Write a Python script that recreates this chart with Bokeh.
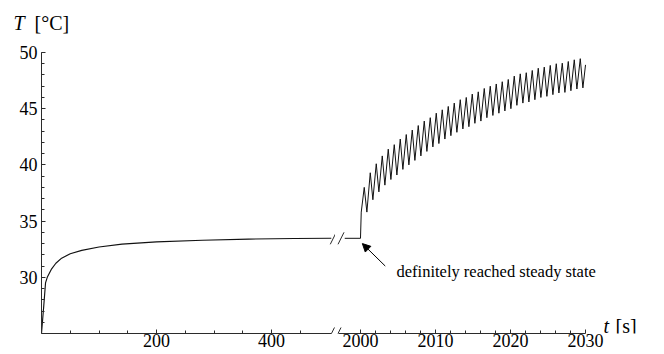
from bokeh.plotting import figure
from bokeh.layouts import row, column
from bokeh.models import Range1d, FixedTicker, Label, Arrow, NormalHead
from bokeh.embed import file_html
from bokeh.resources import INLINE

# ---------------- data ----------------
# first part: warm-up to the steady state, t in s, T in deg C
t_early = [0, 4, 7, 10, 17, 25, 35, 50, 70, 100, 140, 200, 280, 360, 440, 504]
T_early = [25.0, 27.5, 29.5, 30.0, 30.7, 31.25, 31.7, 32.1, 32.4, 32.7, 32.95,
           33.15, 33.3, 33.4, 33.45, 33.47]

# second part: steady state, then periodic heating from t = 2000 s
t_start = [1997.9, 2000.0, 2000.1]
T_start = [33.47, 33.47, 35.8]

peak_t = [2000.5, 2001.3, 2002.1, 2002.9, 2003.7, 2004.5, 2005.3, 2006.1, 2006.9,
          2007.7, 2008.5, 2009.3, 2010.1, 2010.9, 2011.7, 2012.5, 2013.3, 2014.1,
          2014.9, 2015.7, 2016.5, 2017.3, 2018.1, 2018.9, 2019.7, 2020.5, 2021.3,
          2022.1, 2022.9, 2023.7, 2024.5, 2025.3, 2026.1, 2026.9, 2027.7, 2028.5,
          2029.3]
peak_T = [38.0, 39.3, 40.1, 40.8, 41.4, 41.8, 42.3, 42.7, 43.1, 43.5,
          43.9, 44.2, 44.6, 44.9, 45.2, 45.5, 45.8, 46.0, 46.3, 46.5,
          46.8, 47.0, 47.2, 47.4, 47.6, 47.9, 48.1, 48.2, 48.4, 48.6,
          48.7, 48.85, 49.0, 49.05, 49.2, 49.35, 49.45]
trough_t = [2000.85, 2001.65, 2002.45, 2003.25, 2004.05, 2004.85, 2005.65, 2006.45,
            2007.25, 2008.05, 2008.85, 2009.65, 2010.45, 2011.25, 2012.05, 2012.85,
            2013.65, 2014.45, 2015.25, 2016.05, 2016.85, 2017.65, 2018.45, 2019.25,
            2020.05, 2020.85, 2021.65, 2022.45, 2023.25, 2024.05, 2024.85, 2025.65,
            2026.45, 2027.25, 2028.05, 2028.85, 2029.65]
trough_T = [35.8, 36.9, 37.6, 38.2, 38.7, 39.1, 39.6, 40.0, 40.4, 40.8,
            41.2, 41.6, 41.9, 42.3, 42.6, 42.9, 43.2, 43.4, 43.7, 43.9,
            44.2, 44.4, 44.6, 44.8, 45.0, 45.3, 45.5, 45.6, 45.8, 46.0,
            46.1, 46.25, 46.4, 46.45, 46.6, 46.75, 46.85]
t_last = [2030.0]
T_last = [48.9]

# ticks
y_ticks = [30, 35, 40, 45, 50]
y_minor = list(range(25, 51))
x1_ticks = [200, 400]
x1_minor = [50, 100, 150, 250, 300, 350, 450]
x2_ticks = [2000, 2010, 2020, 2030]
x2_minor = list(range(2002, 2030, 2))

# texts
y_title = ("T", "[°C]")
x_title = ("t", "[s]")
note_text = "definitely reached steady state"

# ---------------- assemble series ----------------
t_late = list(t_start)
T_late = list(T_start)
for a, b, c, d in zip(peak_t, peak_T, trough_t, trough_T):
    t_late += [a, c]
    T_late += [b, d]
t_late += t_last
T_late += T_last

# ---------------- styling / layout ----------------
FONT = "Liberation Serif"
AX = "#2b2b2b"
LINE = "#111111"
HEAD_H = 40
H = 354 - HEAD_H
TOP = 52 - HEAD_H
Y_RANGE = (25, 50)
# left panel: frame 41..335 px, axis drawn 0..504.3 s (0.575 px/s)
X1_RANGE = (0, 511.3)
X1_BOUNDS = (0, 504.3)
# right panel: frame 335..664 px, 7.5 px/s, axis drawn 1997.07..2030 s
X2_RANGE = (1996.667, 2040.53)
X2_BOUNDS = (1997.07, 2030)

yr = Range1d(*Y_RANGE)

head = figure(width=664, height=HEAD_H, x_range=Range1d(0, 664),
              y_range=Range1d(0, HEAD_H), x_axis_location=None,
              y_axis_location=None, output_backend="svg", toolbar_location=None,
              min_border_left=0, min_border_right=0, min_border_top=0,
              min_border_bottom=0)
p1 = figure(width=335, height=H, x_range=Range1d(*X1_RANGE), y_range=yr,
            output_backend="svg", toolbar_location=None,
            min_border_left=41, min_border_right=0, min_border_top=TOP,
            min_border_bottom=21)
p2 = figure(width=329, height=H, x_range=Range1d(*X2_RANGE), y_range=yr,
            output_backend="svg", toolbar_location=None, y_axis_location=None,
            min_border_left=0, min_border_right=0, min_border_top=TOP,
            min_border_bottom=21)


def style_fig(p):
    p.background_fill_color = "white"
    p.border_fill_color = "white"
    p.outline_line_color = None
    p.grid.visible = False


def style_axis(ax, ticks, minor, standoff):
    ax.ticker = FixedTicker(ticks=ticks, minor_ticks=minor)
    ax.axis_line_color = AX
    ax.axis_line_width = 1
    ax.major_tick_line_color = AX
    ax.minor_tick_line_color = AX
    ax.major_tick_in = 4
    ax.major_tick_out = 0
    ax.minor_tick_in = 3
    ax.minor_tick_out = 0
    ax.major_label_text_font = FONT
    ax.major_label_text_font_size = "18px"
    ax.major_label_text_color = "black"
    ax.major_label_standoff = standoff


for p in (head, p1, p2):
    style_fig(p)
style_axis(p1.xaxis[0], x1_ticks, x1_minor, 0)
style_axis(p2.xaxis[0], x2_ticks, x2_minor, 0)
style_axis(p1.yaxis[0], y_ticks, y_minor, 4)
p1.xaxis[0].bounds = X1_BOUNDS
p2.xaxis[0].bounds = X2_BOUNDS

p1.line(t_early, T_early, line_color=LINE, line_width=1.15)
p2.line(t_late, T_late, line_color=LINE, line_width=1.0)

# break marks (pixel sizes converted to data units)
KX1 = 1 / 0.575
KX2 = 1 / 7.5
KY = (Y_RANGE[1] - Y_RANGE[0]) / 281.0


def slash(p, xc, yc, kx):
    p.add_layout(Arrow(end=None, x_start=xc - 3 * kx, y_start=yc - 6 * KY,
                       x_end=xc + 3 * kx, y_end=yc + 6 * KY,
                       line_color=AX, line_width=1))


level = T_early[-1]
slash(p1, X1_BOUNDS[1], Y_RANGE[0], KX1)
slash(p2, X2_BOUNDS[0] - 0.5 * KX2, Y_RANGE[0], KX2)
slash(p1, X1_BOUNDS[1] + 1.8 * KX1, level, KX1)
slash(p2, X2_BOUNDS[0] + 2.5 * KX2, level, KX2)

# axis titles
lab = dict(text_font=FONT, text_font_size="20px", text_color="black",
           text_baseline="alphabetic", text_align="left")
head.add_layout(Label(x=13, y=HEAD_H - 22, text=y_title[0],
                      text_font_style="italic", **lab))
head.add_layout(Label(x=34, y=HEAD_H - 22, text=y_title[1], **lab))
p2.add_layout(Label(x=X2_BOUNDS[1], y=Y_RANGE[0], x_offset=18, y_offset=8,
                    text=x_title[0], text_font_style="italic", **lab))
p2.add_layout(Label(x=X2_BOUNDS[1], y=Y_RANGE[0], x_offset=30, y_offset=8,
                    text=x_title[1], **lab))

# annotation
p2.add_layout(Arrow(end=NormalHead(size=8, fill_color="black", line_color="black"),
                    x_start=2003.3, y_start=31.0, x_end=2000.25, y_end=33.0,
                    line_color="black", line_width=1))
p2.add_layout(Label(x=2004.8, y=30.2, y_offset=4, text=note_text, text_font=FONT,
                    text_font_size="16.5px", text_color="black",
                    text_baseline="alphabetic", text_align="left"))

layout = column(head, row(p1, p2, spacing=0), spacing=0)
open("out.html", "w").write(file_html(layout, INLINE))
